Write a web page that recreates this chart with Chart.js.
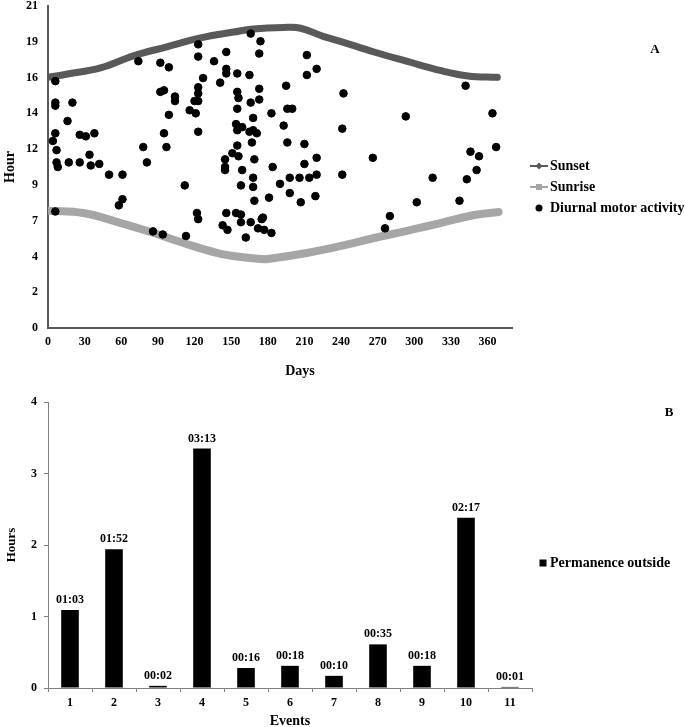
<!DOCTYPE html>
<html>
<head>
<meta charset="utf-8">
<script src="https://cdn.jsdelivr.net/npm/chart.js@4.4.1/dist/chart.umd.min.js"></script>
<style>
  html, body { margin:0; padding:0; background:#fff; overflow:hidden; }
  canvas { position:absolute; left:0; }
  #chartA { top:0; }
  #chartB { top:380px; }
</style>
</head>
<body>
<canvas id="chartA" width="685" height="380"></canvas>
<canvas id="chartB" width="685" height="352"></canvas>
<script>
// --- panel A: sunset / sunrise curves + diurnal activity ---
const sunsetDays  = [0, 15, 43, 70, 98, 125, 152, 168, 193, 207, 226, 240, 267, 295, 322, 344, 368];
const sunsetHours = [16.35, 16.55, 16.96, 17.75, 18.35, 18.92, 19.3, 19.5, 19.6, 19.55, 19.0, 18.68, 18.0, 17.37, 16.78, 16.44, 16.35];

const sunriseDays  = [0, 29, 57, 84, 111, 139, 158, 174, 180, 212, 240, 267, 294, 322, 349, 369];
const sunriseHours = [7.65, 7.5, 6.91, 6.26, 5.54, 4.89, 4.63, 4.5, 4.5, 4.89, 5.35, 5.87, 6.33, 6.85, 7.37, 7.57];

const activityDays = [
  6,74,92,99,123,123,6,6,20,92,
  95,104,104,99,116,16,6,4,26,31,
  38,95,78,97,7,34,7,8,17,26,
  35,42,81,50,61,112,61,58,6,122,
  123,86,94,113,166,174,146,173,212,136,
  146,146,155,165,220,212,127,141,123,123,
  123,120,121,155,156,173,173,166,195,155,
  183,196,200,168,154,159,155,165,168,171,
  193,123,155,167,196,210,151,156,145,169,
  220,210,145,145,159,184,220,168,198,206,
  214,190,158,168,198,219,181,169,207,146,
  154,158,175,176,158,166,143,147,172,177,
  183,162,242,342,293,241,364,266,346,353,
  367,241,315,343,351,302,337,280,276
];
const activityHours = [
  16.1,17.4,17.3,17.0,18.5,17.7,14.7,14.5,14.7,15.4,
  15.5,15.1,14.8,13.9,14.2,13.5,12.7,12.2,12.6,12.5,
  12.7,12.7,11.8,11.8,11.6,11.3,10.8,10.5,10.8,10.8,
  10.6,10.7,10.8,10.0,10.0,9.3,8.4,8.0,7.6,7.5,
  7.1,6.3,6.1,6.0,19.2,18.7,18.0,17.9,17.8,17.4,
  16.9,16.6,16.6,16.5,16.9,16.5,16.3,16.0,15.7,15.3,
  14.8,14.8,14.0,15.4,15.0,15.6,14.9,14.7,15.8,14.3,
  14.0,14.3,14.3,13.7,13.3,13.1,12.9,12.8,12.9,12.7,
  13.2,12.8,11.9,12.1,12.1,12.0,11.4,11.2,11.0,11.0,
  11.1,10.7,10.5,10.3,10.3,10.5,10.0,9.8,9.8,9.8,
  9.8,9.4,9.3,9.2,8.8,8.6,8.5,8.3,8.2,7.5,
  7.5,7.4,7.1,7.2,6.9,6.9,6.7,6.4,6.5,6.4,
  6.2,5.9,15.3,15.8,13.8,13.0,14.0,11.1,11.5,11.2,
  11.8,10.0,9.8,9.7,10.3,8.2,8.3,7.3,6.5
];

const dayTicks = [0, 30, 60, 90, 120, 150, 180, 210, 240, 270, 300, 330, 360];
const hourTickLabels = ['0', '2', '4', '7', '9', '12', '14', '16', '19', '21'];

// --- panel B: time spent outside per event ---
const events = ['1', '2', '3', '4', '5', '6', '7', '8', '9', '10', '11'];
const outsideHours = [1.09, 1.94, 0.03, 3.35, 0.28, 0.31, 0.17, 0.61, 0.31, 2.38, 0.015];
const outsideLabels = ['01:03', '01:52', '00:02', '03:13', '00:16', '00:18', '00:10', '00:35', '00:18', '02:17', '00:01'];

const SERIF = '"Liberation Serif", "Times New Roman", serif';
Chart.defaults.font.family = SERIF;
Chart.defaults.font.weight = 'bold';
Chart.defaults.color = '#000';

const DARK = '#595959';
const LIGHT = '#a6a6a6';

// free text + hand drawn legend swatches
const overlay = {
  id: 'overlay',
  afterDraw(chart, args, opts){
    const ctx = chart.ctx;
    ctx.save();
    ctx.textBaseline = 'middle';
    (opts.items || []).forEach(it => {
      if (it.swatch === 'line'){
        ctx.strokeStyle = it.color; ctx.lineWidth = 2;
        ctx.beginPath(); ctx.moveTo(it.sx - 9, it.y); ctx.lineTo(it.sx + 9, it.y); ctx.stroke();
        ctx.fillStyle = it.color;
        if (it.marker === 'diamond'){
          ctx.beginPath();
          ctx.moveTo(it.sx, it.y - 3.5); ctx.lineTo(it.sx + 3.5, it.y);
          ctx.lineTo(it.sx, it.y + 3.5); ctx.lineTo(it.sx - 3.5, it.y);
          ctx.closePath(); ctx.fill();
        } else {
          ctx.fillRect(it.sx - 3, it.y - 3, 6, 6);
        }
      } else if (it.swatch === 'dot'){
        ctx.fillStyle = it.color;
        ctx.beginPath(); ctx.arc(it.sx, it.y, 3.5, 0, Math.PI * 2); ctx.fill();
      } else if (it.swatch === 'box'){
        ctx.fillStyle = it.color;
        ctx.fillRect(it.sx - 3.5, it.y - 3.5, 7, 7);
      }
      ctx.fillStyle = '#000';
      ctx.font = `bold ${it.size || 14}px ${SERIF}`;
      ctx.textAlign = it.align || 'left';
      ctx.fillText(it.text, it.x, it.y);
    });
    ctx.restore();
  }
};

const barValues = {
  id: 'barValues',
  afterDatasetsDraw(chart){
    const ctx = chart.ctx;
    const meta = chart.getDatasetMeta(0);
    ctx.save();
    ctx.font = `bold 12px ${SERIF}`;
    ctx.fillStyle = '#000';
    ctx.textAlign = 'center';
    ctx.textBaseline = 'middle';
    meta.data.forEach((bar, i) => ctx.fillText(outsideLabels[i], bar.x, bar.y - 10));
    ctx.restore();
  }
};

const toPts = (xs, ys) => xs.map((x, i) => ({x, y: ys[i]}));

new Chart(document.getElementById('chartA'), {
  type: 'scatter',
  data: {
    datasets: [
      {
        label: 'Diurnal motor activity',
        data: toPts(activityDays, activityHours),
        backgroundColor: '#000',
        borderColor: '#000',
        pointRadius: 3.8,
        order: 0
      },
      {
        label: 'Sunset',
        data: toPts(sunsetDays, sunsetHours),
        showLine: true,
        borderColor: DARK,
        borderWidth: 7,
        borderCapStyle: 'round',
        tension: 0.4,
        pointRadius: 0,
        order: 1
      },
      {
        label: 'Sunrise',
        data: toPts(sunriseDays, sunriseHours),
        showLine: true,
        borderColor: LIGHT,
        borderWidth: 8,
        borderCapStyle: 'round',
        tension: 0.4,
        pointRadius: 0,
        order: 2
      }
    ]
  },
  options: {
    responsive: false,
    animation: false,
    layout: { padding: { top: 6, right: 173, bottom: 0, left: 0 } },
    plugins: {
      legend: { display: false },
      tooltip: { enabled: false },
      overlay: {
        items: [
          { text: 'A', x: 655, y: 50, align: 'center', size: 13 },
          { text: 'Days', x: 300, y: 371, align: 'center' },
          { text: 'Sunset', x: 550, y: 166, swatch: 'line', marker: 'diamond', sx: 539, color: DARK },
          { text: 'Sunrise', x: 550, y: 187, swatch: 'line', marker: 'square', sx: 539, color: LIGHT },
          { text: 'Diurnal motor activity', x: 550, y: 208, swatch: 'dot', sx: 539, color: '#000' }
        ]
      }
    },
    scales: {
      x: {
        type: 'linear', min: 0, max: 380,
        afterBuildTicks: s => { s.ticks = dayTicks.map(v => ({ value: v })); },
        afterFit: s => { s.height = 52; },
        grid: { drawOnChartArea: false, drawTicks: false, color: DARK },
        border: { color: DARK, width: 2 },
        ticks: { font: { size: 12, weight: 'bold' }, padding: 7, maxRotation: 0 }
      },
      y: {
        type: 'linear', min: 0, max: 21,
        afterBuildTicks: s => { s.ticks = hourTickLabels.map((_, i) => ({ value: i * 21 / 9 })); },
        afterFit: s => { s.width = 48; s.paddingTop = 0; s.paddingBottom = 0; },
        grid: { drawOnChartArea: false, drawTicks: false, color: DARK },
        border: { color: DARK, width: 2 },
        ticks: { font: { size: 12, weight: 'bold' }, padding: 10, callback: (v, i) => hourTickLabels[i] },
        title: { display: true, text: 'Hour', font: { size: 14, weight: 'bold' }, padding: { top: 2, bottom: 0 } }
      }
    }
  },
  plugins: [overlay]
});

new Chart(document.getElementById('chartB'), {
  type: 'bar',
  data: {
    labels: events,
    datasets: [{
      label: 'Permanence outside',
      data: outsideHours,
      backgroundColor: '#000',
      barPercentage: 0.4,
      categoryPercentage: 1
    }]
  },
  options: {
    responsive: false,
    animation: false,
    layout: { padding: { top: 22, right: 153, bottom: 0, left: 0 } },
    plugins: {
      legend: { display: false },
      tooltip: { enabled: false },
      overlay: {
        items: [
          { text: 'B', x: 669, y: 33, align: 'center', size: 13 },
          { text: 'Permanence outside', x: 550, y: 183, swatch: 'box', sx: 543, color: '#000' }
        ]
      }
    },
    scales: {
      x: {
        afterFit: s => { s.height = 44; },
        grid: { drawOnChartArea: false, tickLength: 4, color: '#808080' },
        border: { color: '#808080', width: 1 },
        ticks: { font: { size: 12, weight: 'bold' }, padding: 4 },
        title: { display: true, text: 'Events', font: { size: 14, weight: 'bold' }, padding: { top: 0, bottom: 2 } }
      },
      y: {
        min: 0, max: 4,
        ticks: { stepSize: 1, font: { size: 12, weight: 'bold' }, padding: 7 },
        afterFit: s => { s.width = 48; },
        grid: { drawOnChartArea: false, tickLength: 4, color: '#808080' },
        border: { color: '#808080', width: 1 },
        title: { display: true, text: 'Hours', font: { size: 13, weight: 'bold' }, padding: { top: 4, bottom: 0 } }
      }
    }
  },
  plugins: [overlay, barValues]
});
</script>
</body>
</html>
